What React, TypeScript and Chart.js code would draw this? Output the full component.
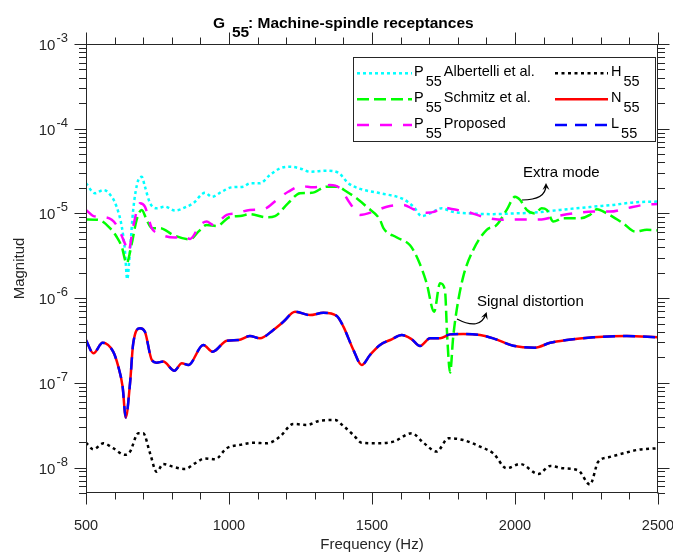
import React, { useEffect, useRef } from 'react';
import { Chart, registerables } from 'chart.js';

Chart.register(...registerables);

// ---------- axis ranges / ticks ----------
const X_MIN = 500;
const X_MAX = 2500;
const X_MAJOR_STEP = 500;
const X_MINOR_STEP = 100;
const xTickLabels = ['500', '1000', '1500', '2000', '2500'];
const Y_MIN = 5e-9;
const Y_MAX = 1e-3;
const yDecades = [-8, -7, -6, -5, -4, -3];

// ---------- data ----------
// N55 (solid red) and L55 (blue dashed) coincide
const nFreq = [500, 526, 558, 595, 613, 628, 639, 654, 665, 689, 706, 730, 747, 770, 809, 835, 858, 910, 943, 992, 1033, 1073, 1108, 1155, 1190, 1231, 1283, 1330, 1377, 1400, 1435, 1464, 1493, 1528, 1569, 1604, 1639, 1668, 1703, 1738, 1773, 1819, 1878, 1924, 1994, 2070, 2123, 2181, 2274, 2391, 2500];
const nVal = [3.2e-7, 2.23e-7, 2.97e-7, 2.33e-7, 1.55e-7, 9e-8, 3.9e-8, 9.9e-8, 2.9e-7, 4.4e-7, 4.0e-7, 1.86e-7, 1.73e-7, 1.78e-7, 1.39e-7, 1.7e-7, 1.62e-7, 2.8e-7, 2.33e-7, 3.14e-7, 3.2e-7, 3.57e-7, 3.35e-7, 4.2e-7, 5.25e-7, 6.9e-7, 6.3e-7, 6.7e-7, 6.15e-7, 4.6e-7, 2.44e-7, 1.62e-7, 2.13e-7, 2.8e-7, 3.26e-7, 3.66e-7, 3.26e-7, 2.72e-7, 3.35e-7, 3.35e-7, 3.73e-7, 3.77e-7, 3.66e-7, 3.35e-7, 2.74e-7, 2.6e-7, 2.97e-7, 3.2e-7, 3.44e-7, 3.57e-7, 3.44e-7];
const lFreq = nFreq;
const lVal = nVal;

// H55 (black dotted)
const hFreq = [500, 526, 561, 595, 636, 654, 683, 700, 724, 747, 770, 805, 846, 881, 916, 951, 992, 1039, 1085, 1132, 1178, 1225, 1272, 1318, 1371, 1400, 1435, 1464, 1517, 1575, 1639, 1680, 1726, 1767, 1819, 1878, 1924, 1971, 2018, 2082, 2123, 2169, 2222, 2262, 2291, 2327, 2379, 2426, 2500];
const hVal = [1.96e-8, 1.64e-8, 1.93e-8, 1.69e-8, 1.41e-8, 1.54e-8, 2.54e-8, 2.54e-8, 1.47e-8, 8.9e-9, 1.1e-8, 1.02e-8, 9.6e-9, 1.12e-8, 1.28e-8, 1.25e-8, 1.69e-8, 1.85e-8, 1.96e-8, 1.93e-8, 2.31e-8, 3.27e-8, 3.18e-8, 3.57e-8, 3.64e-8, 3.09e-8, 2.42e-8, 1.96e-8, 1.93e-8, 2.02e-8, 2.54e-8, 1.96e-8, 1.54e-8, 2.21e-8, 2.11e-8, 1.76e-8, 1.47e-8, 9.8e-9, 1.1e-8, 8.4e-9, 1.04e-8, 9.8e-9, 9.2e-9, 6.3e-9, 1.17e-8, 1.32e-8, 1.47e-8, 1.61e-8, 1.69e-8];

// P55 Albertelli et al. (cyan dotted)
const aFreq = [500, 531, 561, 590, 607, 625, 636, 644, 654, 665, 683, 695, 706, 724, 747, 776, 811, 852, 875, 916, 940, 974, 1009, 1050, 1073, 1108, 1143, 1178, 1213, 1248, 1283, 1342, 1382, 1417, 1458, 1528, 1610, 1645, 1674, 1703, 1744, 1779, 1843, 1924, 1994, 2064, 2158, 2274, 2344, 2414, 2500];
const aVal = [2.27e-5, 1.73e-5, 1.89e-5, 1.57e-5, 1.2e-5, 7e-6, 3.7e-6, 1.67e-6, 3.7e-6, 1.1e-5, 2.48e-5, 2.7e-5, 2.07e-5, 1.32e-5, 1.15e-5, 1.2e-5, 1.08e-5, 1.2e-5, 1.32e-5, 1.75e-5, 1.57e-5, 1.8e-5, 2.03e-5, 2.07e-5, 2.27e-5, 2.27e-5, 2.84e-5, 3.4e-5, 3.56e-5, 3.4e-5, 3.1e-5, 3.19e-5, 3.03e-5, 2.27e-5, 1.95e-5, 1.73e-5, 1.47e-5, 1.2e-5, 9.3e-6, 1e-5, 1.15e-5, 1.05e-5, 1e-5, 9.8e-6, 1e-5, 1.02e-5, 1.1e-5, 1.2e-5, 1.26e-5, 1.35e-5, 1.38e-5];

// P55 Schmitz et al. (green dash-dot)
const sFreq = [500, 543, 584, 607, 625, 642, 660, 677, 695, 712, 730, 759, 805, 864, 893, 922, 957, 1004, 1039, 1073, 1132, 1161, 1207, 1248, 1289, 1342, 1377, 1412, 1446, 1481, 1528, 1540, 1587, 1633, 1662, 1691, 1717, 1738, 1755, 1763, 1773, 1784, 1796, 1819, 1854, 1901, 1936, 1971, 2000, 2018, 2041, 2070, 2093, 2111, 2134, 2169, 2227, 2262, 2286, 2321, 2379, 2420, 2461, 2500];
const sVal = [8.5e-6, 8.4e-6, 6.7e-6, 5.3e-6, 4.05e-6, 2.58e-6, 4.4e-6, 8.4e-6, 1.1e-5, 8.4e-6, 6.7e-6, 6.7e-6, 5.56e-6, 4.94e-6, 6.1e-6, 7.3e-6, 7.1e-6, 9.1e-6, 9.3e-6, 9.8e-6, 9e-6, 9.3e-6, 1.32e-5, 1.73e-5, 1.75e-5, 2.07e-5, 2.07e-5, 1.8e-5, 1.51e-5, 1.2e-5, 8.4e-6, 6.7e-6, 5.2e-6, 4.2e-6, 2.8e-6, 1.5e-6, 6.9e-7, 1.5e-6, 1.25e-6, 3.5e-7, 1.32e-7, 3.5e-7, 7.2e-7, 1.79e-6, 3.7e-6, 6.4e-6, 7.3e-6, 1.1e-5, 1.57e-5, 1.44e-5, 1.1e-5, 1e-5, 1.15e-5, 1.1e-5, 8e-6, 8.75e-6, 8.75e-6, 9.6e-6, 1.12e-5, 1e-5, 7.6e-6, 6.1e-6, 6.4e-6, 6.3e-6];

// P55 Proposed (magenta dashed)
const pFreq = [500, 526, 549, 590, 613, 636, 648, 665, 689, 706, 730, 753, 811, 840, 864, 899, 922, 945, 992, 1027, 1073, 1120, 1167, 1207, 1254, 1295, 1353, 1388, 1423, 1458, 1505, 1552, 1610, 1645, 1691, 1720, 1744, 1784, 1831, 1889, 1959, 2029, 2093, 2134, 2204, 2274, 2332, 2391, 2449, 2500];
const pVal = [1.1e-5, 9.3e-6, 9.1e-6, 8.4e-6, 6.7e-6, 4.4e-6, 3.5e-6, 7e-6, 1.32e-5, 1.2e-5, 6.7e-6, 5.8e-6, 5.2e-6, 5.4e-6, 5.0e-6, 7.3e-6, 8e-6, 7.3e-6, 9.6e-6, 1e-5, 1.1e-5, 1.12e-5, 1.44e-5, 1.8e-5, 2.1e-5, 2.03e-5, 2.16e-5, 1.98e-5, 1.32e-5, 9.6e-6, 1.05e-5, 1.2e-5, 1.26e-5, 1.12e-5, 1.02e-5, 1.05e-5, 1.18e-5, 1.12e-5, 1.05e-5, 9.1e-6, 8.4e-6, 8.5e-6, 8.5e-6, 9.1e-6, 1e-5, 1.05e-5, 1.05e-5, 1.15e-5, 1.26e-5, 1.29e-5];

// ---------- styles ----------
const FONT = "'Liberation Sans', Arial, Helvetica, sans-serif";
const AX = '#262626';

type Series = { key: string; base: string; sub: string; rest: string; color: string; dash: number[]; freq: number[]; val: number[] };

const SERIES: Series[] = [
  { key: 'L', base: 'L', sub: '55', rest: '', color: '#0000ff', dash: [12, 8], freq: lFreq, val: lVal },
  { key: 'N', base: 'N', sub: '55', rest: '', color: '#ff0000', dash: [], freq: nFreq, val: nVal },
  { key: 'H', base: 'H', sub: '55', rest: '', color: '#000000', dash: [3, 3.5], freq: hFreq, val: hVal },
  { key: 'P', base: 'P', sub: '55', rest: 'Proposed', color: '#ff00ff', dash: [12, 11], freq: pFreq, val: pVal },
  { key: 'S', base: 'P', sub: '55', rest: 'Schmitz et al.', color: '#00ff00', dash: [12, 5], freq: sFreq, val: sVal },
  { key: 'A', base: 'P', sub: '55', rest: 'Albertelli et al.', color: '#00ffff', dash: [3, 3], freq: aFreq, val: aVal },
];

// legend layout: [series key, column, row]
const legendLayout: [string, number, number][] = [
  ['A', 0, 0], ['S', 0, 1], ['P', 0, 2], ['H', 1, 0], ['N', 1, 1], ['L', 1, 2],
];

function zip(f: number[], v: number[]) {
  const n = Math.min(f.length, v.length);
  const out: { x: number; y: number }[] = [];
  for (let i = 0; i < n; i++) out.push({ x: f[i], y: v[i] });
  return out;
}

function line(ctx: CanvasRenderingContext2D, x1: number, y1: number, x2: number, y2: number) {
  ctx.beginPath();
  ctx.moveTo(x1, y1);
  ctx.lineTo(x2, y2);
  ctx.stroke();
}

function arrow(ctx: CanvasRenderingContext2D, sx: number, sy: number, cx: number, cy: number, ex: number, ey: number) {
  ctx.save();
  ctx.strokeStyle = '#000';
  ctx.fillStyle = '#000';
  ctx.lineWidth = 1.2;
  ctx.setLineDash([]);
  ctx.beginPath();
  ctx.moveTo(sx, sy);
  ctx.quadraticCurveTo(cx, cy, ex, ey);
  ctx.stroke();
  const a = Math.atan2(ey - cy, ex - cx);
  const L = 7, W = 3.5;
  const tx = ex + Math.cos(a) * 2, ty = ey + Math.sin(a) * 2;
  ctx.beginPath();
  ctx.moveTo(tx, ty);
  ctx.lineTo(tx - L * Math.cos(a) + W * Math.sin(a), ty - L * Math.sin(a) - W * Math.cos(a));
  ctx.lineTo(tx - L * 0.6 * Math.cos(a), ty - L * 0.6 * Math.sin(a));
  ctx.lineTo(tx - L * Math.cos(a) - W * Math.sin(a), ty - L * Math.sin(a) + W * Math.cos(a));
  ctx.closePath();
  ctx.fill();
  ctx.restore();
}

const overlayPlugin = {
  id: 'overlay',
  afterDraw(chart: any) {
    const ctx: CanvasRenderingContext2D = chart.ctx;
    const { left, right, top, bottom } = chart.chartArea;
    const xs = chart.scales.x;
    const ys = chart.scales.y;
    ctx.save();
    ctx.setLineDash([]);
    ctx.strokeStyle = AX;
    ctx.lineWidth = 1;
    const L0 = Math.round(left) + 0.5, R0 = Math.round(right) - 0.5;
    const T0 = Math.round(top) + 0.5, B0 = Math.round(bottom) - 0.5;
    ctx.strokeRect(L0, T0, R0 - L0, B0 - T0);

    // x ticks (outward, top & bottom)
    for (let f = X_MIN; f <= X_MAX + 1e-9; f += X_MINOR_STEP) {
      const px = Math.round(xs.getPixelForValue(f)) + 0.5;
      const len = f % X_MAJOR_STEP === 0 ? 12 : 7;
      line(ctx, px, B0, px, B0 + len);
      line(ctx, px, T0, px, T0 - len);
    }
    // y ticks (log, outward, left & right)
    for (let e = -9; e <= -3; e++) {
      for (let m = 1; m <= 9; m++) {
        const v = m * Math.pow(10, e);
        if (v < Y_MIN * 0.999 || v > Y_MAX * 1.001) continue;
        const py = Math.round(ys.getPixelForValue(v)) + 0.5;
        const len = m === 1 ? 12 : 7.5;
        line(ctx, L0 - len, py, L0, py);
        line(ctx, R0, py, R0 + len, py);
      }
    }

    // x tick labels
    ctx.fillStyle = AX;
    ctx.font = `14.5px ${FONT}`;
    ctx.textAlign = 'center';
    ctx.textBaseline = 'alphabetic';
    xTickLabels.forEach((lab, i) => {
      const f = X_MIN + i * X_MAJOR_STEP;
      ctx.fillText(lab, xs.getPixelForValue(f), 530);
    });

    // y tick labels 10^e
    yDecades.forEach((e) => {
      const py = ys.getPixelForValue(Math.pow(10, e));
      const sup = String(e);
      ctx.textAlign = 'right';
      ctx.font = `13px ${FONT}`;
      const rightX = 68;
      ctx.fillText(sup, rightX, py - 2);
      const sw = ctx.measureText(sup).width;
      ctx.font = `15px ${FONT}`;
      ctx.fillText('10', rightX - sw - 1, py + 6);
    });

    // axis titles
    ctx.font = `15px ${FONT}`;
    ctx.textAlign = 'center';
    ctx.fillText('Frequency (Hz)', (left + right) / 2, 549);
    ctx.save();
    ctx.translate(20, (top + bottom) / 2);
    ctx.rotate(-Math.PI / 2);
    ctx.textBaseline = 'middle';
    ctx.fillText('Magnitud', 0, 0);
    ctx.restore();

    // title
    ctx.fillStyle = '#000';
    ctx.textAlign = 'left';
    ctx.textBaseline = 'alphabetic';
    ctx.font = `bold 15.5px ${FONT}`;
    ctx.fillText('G', 213, 28);
    ctx.fillText('55', 232, 37);
    ctx.fillText(': Machine-spindle receptances', 248, 28);

    // legend
    const bx = 353, by = 57, bw = 302, bh = 84;
    ctx.fillStyle = '#fff';
    ctx.fillRect(bx, by, bw, bh);
    ctx.strokeStyle = AX;
    ctx.lineWidth = 1;
    ctx.strokeRect(bx + 0.5, by + 0.5, bw, bh);
    const rowY = [73.3, 99.3, 125];
    const colLine = [[357, 412], [555, 608]];
    const colText = [414, 611];
    legendLayout.forEach(([key, c, r]) => {
      const s = SERIES.find((q) => q.key === key)!;
      const y = rowY[r];
      ctx.save();
      ctx.strokeStyle = s.color;
      ctx.lineWidth = 2.5;
      ctx.lineCap = 'butt';
      ctx.setLineDash(s.dash);
      line(ctx, colLine[c][0], y, colLine[c][1], y);
      ctx.restore();
      ctx.fillStyle = '#000';
      ctx.font = `14.5px ${FONT}`;
      ctx.textAlign = 'left';
      let x = colText[c];
      ctx.fillText(s.base, x, y + 2.8);
      x += ctx.measureText(s.base).width + 2;
      ctx.fillText(s.sub, x, y + 12.8);
      x += ctx.measureText(s.sub).width + 2;
      if (s.rest) ctx.fillText(s.rest, x, y + 2.8);
    });

    // annotations
    ctx.fillStyle = '#000';
    ctx.font = `15px ${FONT}`;
    ctx.textAlign = 'left';
    ctx.fillText('Extra mode', 523, 177);
    ctx.fillText('Signal distortion', 477, 306);
    arrow(ctx, 522, 200, 546, 200, 546, 185);
    arrow(ctx, 457, 319, 480, 331, 486, 314);

    ctx.restore();
  },
};

export default function App() {
  const ref = useRef<HTMLCanvasElement | null>(null);
  useEffect(() => {
    if (!ref.current) return;
    const chart = new Chart(ref.current, {
      type: 'line',
      data: {
        datasets: SERIES.map((s) => ({
          label: s.key,
          data: zip(s.freq, s.val),
          borderColor: s.color,
          backgroundColor: s.color,
          borderWidth: 2.5,
          borderDash: s.dash,
          borderCapStyle: 'butt' as const,
          pointRadius: 0,
          pointHoverRadius: 0,
          fill: false,
          cubicInterpolationMode: 'monotone' as const,
        })),
      },
      options: {
        responsive: false,
        animation: false,
        events: [],
        layout: { padding: { left: 86, top: 44, right: 15, bottom: 61 } },
        plugins: { legend: { display: false }, title: { display: false }, tooltip: { enabled: false } },
        scales: {
          x: { type: 'linear', min: X_MIN, max: X_MAX, display: false },
          y: { type: 'logarithmic', min: Y_MIN, max: Y_MAX, display: false },
        },
      },
      plugins: [overlayPlugin],
    });
    return () => chart.destroy();
  }, []);
  return (
    <div style={{ position: 'absolute', left: 0, top: 0, width: 673, height: 554, background: '#fff' }}>
      <canvas ref={ref} width={673} height={554} style={{ display: 'block', width: 673, height: 554 }} />
    </div>
  );
}
